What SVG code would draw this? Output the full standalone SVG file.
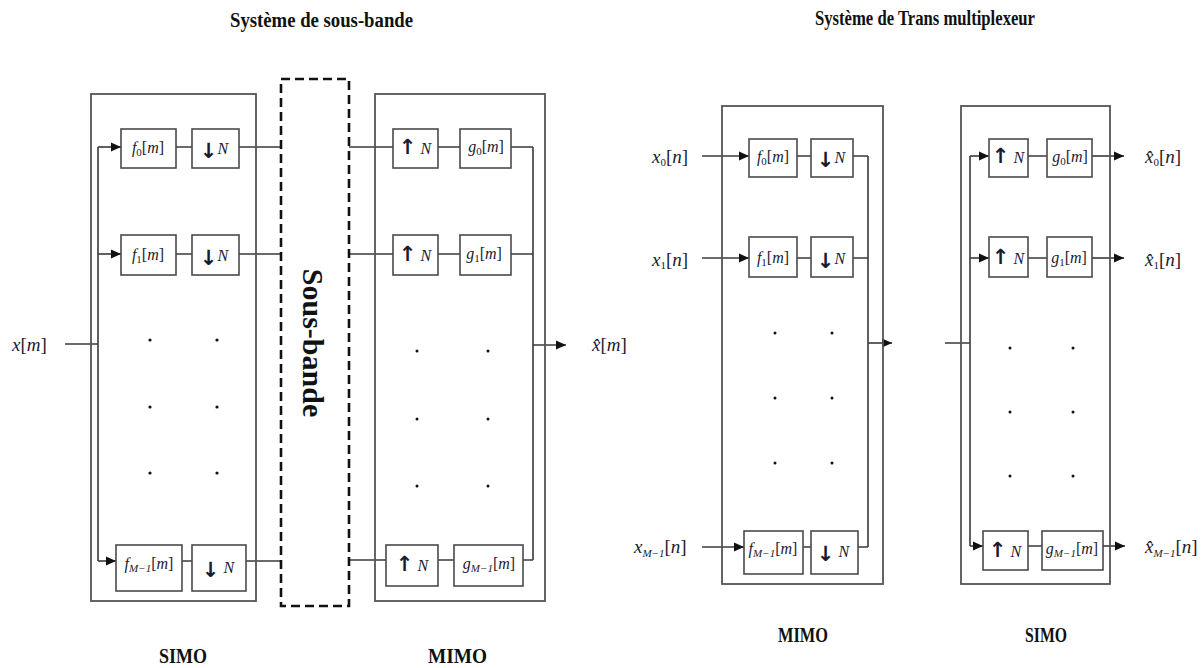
<svg xmlns="http://www.w3.org/2000/svg" width="1201" height="668" viewBox="0 0 1201 668">
<style>
.frame{fill:none;stroke:#555;stroke-width:1.8}
.box{fill:#fff;stroke:#4a4a4a;stroke-width:1.6}
.ln{fill:none;stroke:#3a3a3a;stroke-width:1.6}
.arw{marker-end:url(#ah)}
.dash{fill:none;stroke:#111;stroke-width:2.6;stroke-dasharray:9 5}
.m{font-family:"Liberation Serif",serif;font-style:italic;font-size:16px;fill:#1b1b2f}
.lab{font-family:"Liberation Serif",serif;font-style:italic;font-size:19px;fill:#1b1b2f}
.sub{font-size:11px;font-style:normal}
.subi{font-size:11px}
.up{font-style:normal}
.ar{font-family:"DejaVu Sans",sans-serif;font-style:normal;font-weight:bold;font-size:21px}
.ttl{font-family:"Liberation Serif",serif;font-weight:bold;font-size:20px;fill:#111}
.dot{fill:#111}
</style>
<defs>
<marker id="ah" markerUnits="userSpaceOnUse" markerWidth="10" markerHeight="10" viewBox="0 0 10 10" refX="10" refY="5" orient="auto">
<path d="M0,0.5 L10,5 L0,9.5 z" fill="#111"/>
</marker>
</defs>

<g id="titles">
<text class="ttl" x="230" y="27" textLength="183" lengthAdjust="spacingAndGlyphs">Système de sous-bande</text>
<text class="ttl" x="815" y="25" textLength="220" lengthAdjust="spacingAndGlyphs">Système de Trans multiplexeur</text>
<text class="ttl" x="159" y="663" textLength="48" lengthAdjust="spacingAndGlyphs">SIMO</text>
<text class="ttl" x="428" y="663" textLength="59" lengthAdjust="spacingAndGlyphs">MIMO</text>
<text class="ttl" x="778" y="642" textLength="50" lengthAdjust="spacingAndGlyphs">MIMO</text>
<text class="ttl" x="1025" y="642" textLength="42" lengthAdjust="spacingAndGlyphs">SIMO</text>
</g>

<g id="connectors">
<path class="ln" d="M65,344 H98 M98,147 V561"/>
<path class="ln arw" d="M98,147 H121"/>
<path class="ln arw" d="M98,254 H121"/>
<path class="ln arw" d="M98,561 H116"/>
<path class="ln" d="M176,147 H192 M239,147 H281 M176,254 H192 M239,254 H281 M182,561 H192 M246,561 H281"/>
<path class="ln" d="M349,147 H393 M438,147 H460 M511,147 H533 M349,254 H393 M438,254 H460 M511,254 H533 M349,560 H386 M438,560 H454 M523,560 H533 M533,147 V560"/>
<path class="ln arw" d="M533,345 H566"/>
<path class="ln arw" d="M702,156 H749"/>
<path class="ln arw" d="M702,258 H749"/>
<path class="ln arw" d="M702,547 H744"/>
<path class="ln" d="M797,156 H811 M853,156 H868 M797,258 H811 M853,258 H868 M803,547 H811 M858,547 H868 M868,156 V547"/>
<path class="ln arw" d="M868,343 H892"/>
<path class="ln" d="M945,343 H970 M970,156 V546 M1028,156 H1047 M1028,258 H1047 M1028,546 H1042"/>
<path class="ln arw" d="M970,156 H989"/>
<path class="ln arw" d="M970,258 H989"/>
<path class="ln arw" d="M970,546 H983"/>
<path class="ln arw" d="M1092,156 H1124"/>
<path class="ln arw" d="M1092,258 H1124"/>
<path class="ln arw" d="M1103,546 H1125"/>
</g>

<g id="simo-left">
<rect class="frame" x="91" y="94" width="165" height="507"/>
<g id="f0-l"><rect class="box" x="121" y="129" width="55" height="39"/><text class="m" x="148" y="153" text-anchor="middle">f<tspan class="sub" dy="3">0</tspan><tspan class="up" dy="-3">[</tspan>m<tspan class="up">]</tspan></text></g>
<g id="d0-l"><rect class="box" x="192" y="129" width="47" height="39"/><text class="m" x="214" y="154" text-anchor="middle"><tspan class="ar" dy="4">↓</tspan><tspan dy="-4">N</tspan></text></g>
<g id="f1-l"><rect class="box" x="121" y="235" width="55" height="40"/><text class="m" x="148" y="260" text-anchor="middle">f<tspan class="sub" dy="3">1</tspan><tspan class="up" dy="-3">[</tspan>m<tspan class="up">]</tspan></text></g>
<g id="d1-l"><rect class="box" x="192" y="235" width="47" height="40"/><text class="m" x="214" y="261" text-anchor="middle"><tspan class="ar" dy="4">↓</tspan><tspan dy="-4">N</tspan></text></g>
<g id="fM-l"><rect class="box" x="116" y="545" width="66" height="46"/><text class="m" x="149" y="569" text-anchor="middle">f<tspan class="subi" dy="3">M−1</tspan><tspan class="up" dy="-3">[</tspan>m<tspan class="up">]</tspan></text></g>
<g id="dM-l"><rect class="box" x="192" y="545" width="54" height="46"/><text class="m" x="218" y="573" text-anchor="middle"><tspan class="ar" dy="4">↓</tspan><tspan dy="-4"> N</tspan></text></g>
<circle class="dot" cx="150" cy="340" r="1.6"/><circle class="dot" cx="217" cy="340" r="1.6"/>
<circle class="dot" cx="150" cy="407" r="1.6"/><circle class="dot" cx="217" cy="407" r="1.6"/>
<circle class="dot" cx="150" cy="473" r="1.6"/><circle class="dot" cx="217" cy="473" r="1.6"/>
<text class="lab" x="12" y="351">x<tspan class="up">[</tspan>m<tspan class="up">]</tspan></text>
</g>

<g id="sous-bande">
<rect class="dash" x="281" y="79" width="68" height="527"/>
<text transform="translate(303,343) rotate(90)" text-anchor="middle" style="font-family:'Liberation Serif',serif;font-weight:bold;font-size:30px;fill:#111">Sous-bande</text>
</g>

<g id="mimo-left">
<rect class="frame" x="375" y="94" width="170" height="507"/>
<g id="u0-l"><rect class="box" x="393" y="129" width="45" height="39"/><text class="m" x="415" y="154" text-anchor="middle"><tspan class="ar">↑</tspan><tspan> N</tspan></text></g>
<g id="g0-l"><rect class="box" x="460" y="129" width="51" height="39"/><text class="m" x="486" y="152" text-anchor="middle">g<tspan class="sub" dy="3">0</tspan><tspan class="up" dy="-3">[</tspan>m<tspan class="up">]</tspan></text></g>
<g id="u1-l"><rect class="box" x="393" y="235" width="45" height="40"/><text class="m" x="415" y="261" text-anchor="middle"><tspan class="ar">↑</tspan><tspan> N</tspan></text></g>
<g id="g1-l"><rect class="box" x="460" y="235" width="51" height="40"/><text class="m" x="484" y="259" text-anchor="middle">g<tspan class="sub" dy="3">1</tspan><tspan class="up" dy="-3">[</tspan>m<tspan class="up">]</tspan></text></g>
<g id="uM-l"><rect class="box" x="386" y="545" width="52" height="41"/><text class="m" x="412" y="571" text-anchor="middle"><tspan class="ar">↑</tspan><tspan> N</tspan></text></g>
<g id="gM-l"><rect class="box" x="454" y="545" width="69" height="41"/><text class="m" x="489" y="569" text-anchor="middle">g<tspan class="subi" dy="3">M−1</tspan><tspan class="up" dy="-3">[</tspan>m<tspan class="up">]</tspan></text></g>
<circle class="dot" cx="417" cy="351" r="1.5"/><circle class="dot" cx="488" cy="351" r="1.5"/>
<circle class="dot" cx="417" cy="419" r="1.5"/><circle class="dot" cx="488" cy="419" r="1.5"/>
<circle class="dot" cx="417" cy="486" r="1.5"/><circle class="dot" cx="488" cy="486" r="1.5"/>
<text class="lab" x="592" y="351">x̂<tspan class="up">[</tspan>m<tspan class="up">]</tspan></text>
</g>

<g id="mimo-right">
<rect class="frame" x="722" y="106" width="161" height="478"/>
<g id="f0-r"><rect class="box" x="749" y="139" width="48" height="38"/><text class="m" x="773" y="162" text-anchor="middle">f<tspan class="sub" dy="3">0</tspan><tspan class="up" dy="-3">[</tspan>m<tspan class="up">]</tspan></text></g>
<g id="d0-r"><rect class="box" x="811" y="139" width="42" height="38"/><text class="m" x="831" y="163" text-anchor="middle"><tspan class="ar" dy="4">↓</tspan><tspan dy="-4">N</tspan></text></g>
<g id="f1-r"><rect class="box" x="749" y="237" width="48" height="40"/><text class="m" x="773" y="263" text-anchor="middle">f<tspan class="sub" dy="3">1</tspan><tspan class="up" dy="-3">[</tspan>m<tspan class="up">]</tspan></text></g>
<g id="d1-r"><rect class="box" x="811" y="237" width="42" height="40"/><text class="m" x="831" y="264" text-anchor="middle"><tspan class="ar" dy="4">↓</tspan><tspan dy="-4">N</tspan></text></g>
<g id="fM-r"><rect class="box" x="744" y="531" width="59" height="43"/><text class="m" x="773" y="554" text-anchor="middle">f<tspan class="subi" dy="3">M−1</tspan><tspan class="up" dy="-3">[</tspan>m<tspan class="up">]</tspan></text></g>
<g id="dM-r"><rect class="box" x="811" y="531" width="47" height="43"/><text class="m" x="833" y="557" text-anchor="middle"><tspan class="ar" dy="4">↓</tspan><tspan dy="-4"> N</tspan></text></g>
<circle class="dot" cx="775" cy="333" r="1.5"/><circle class="dot" cx="832" cy="333" r="1.5"/>
<circle class="dot" cx="775" cy="398" r="1.5"/><circle class="dot" cx="832" cy="398" r="1.5"/>
<circle class="dot" cx="775" cy="463" r="1.5"/><circle class="dot" cx="832" cy="463" r="1.5"/>
<text class="lab" x="652" y="163">x<tspan class="sub" dy="3">0</tspan><tspan class="up" dy="-3">[</tspan>n<tspan class="up">]</tspan></text>
<text class="lab" x="652" y="266">x<tspan class="sub" dy="3">1</tspan><tspan class="up" dy="-3">[</tspan>n<tspan class="up">]</tspan></text>
<text class="lab" x="634" y="553">x<tspan class="subi" dy="4">M−1</tspan><tspan class="up" dy="-4">[</tspan>n<tspan class="up">]</tspan></text>
</g>

<g id="simo-right">
<rect class="frame" x="961" y="106" width="149" height="478"/>
<g id="u0-r"><rect class="box" x="989" y="139" width="39" height="38"/><text class="m" x="1008" y="163" text-anchor="middle"><tspan class="ar">↑</tspan><tspan> N</tspan></text></g>
<g id="g0-r"><rect class="box" x="1047" y="139" width="45" height="38"/><text class="m" x="1070" y="162" text-anchor="middle">g<tspan class="sub" dy="3">0</tspan><tspan class="up" dy="-3">[</tspan>m<tspan class="up">]</tspan></text></g>
<g id="u1-r"><rect class="box" x="989" y="237" width="39" height="40"/><text class="m" x="1008" y="264" text-anchor="middle"><tspan class="ar">↑</tspan><tspan> N</tspan></text></g>
<g id="g1-r"><rect class="box" x="1047" y="237" width="45" height="40"/><text class="m" x="1069" y="263" text-anchor="middle">g<tspan class="sub" dy="3">1</tspan><tspan class="up" dy="-3">[</tspan>m<tspan class="up">]</tspan></text></g>
<g id="uM-r"><rect class="box" x="983" y="531" width="45" height="39"/><text class="m" x="1005" y="557" text-anchor="middle"><tspan class="ar">↑</tspan><tspan> N</tspan></text></g>
<g id="gM-r"><rect class="box" x="1042" y="531" width="61" height="39"/><text class="m" x="1072" y="554" text-anchor="middle">g<tspan class="subi" dy="3">M−1</tspan><tspan class="up" dy="-3">[</tspan>m<tspan class="up">]</tspan></text></g>
<circle class="dot" cx="1010" cy="348" r="1.5"/><circle class="dot" cx="1073" cy="348" r="1.5"/>
<circle class="dot" cx="1010" cy="412" r="1.5"/><circle class="dot" cx="1073" cy="412" r="1.5"/>
<circle class="dot" cx="1010" cy="476" r="1.5"/><circle class="dot" cx="1073" cy="476" r="1.5"/>
<text class="lab" x="1145" y="163">x̂<tspan class="sub" dy="3">0</tspan><tspan class="up" dy="-3">[</tspan>n<tspan class="up">]</tspan></text>
<text class="lab" x="1145" y="266">x̂<tspan class="sub" dy="3">1</tspan><tspan class="up" dy="-3">[</tspan>n<tspan class="up">]</tspan></text>
<text class="lab" x="1145" y="553">x̂<tspan class="subi" dy="4">M−1</tspan><tspan class="up" dy="-4">[</tspan>n<tspan class="up">]</tspan></text>
</g>
</svg>
